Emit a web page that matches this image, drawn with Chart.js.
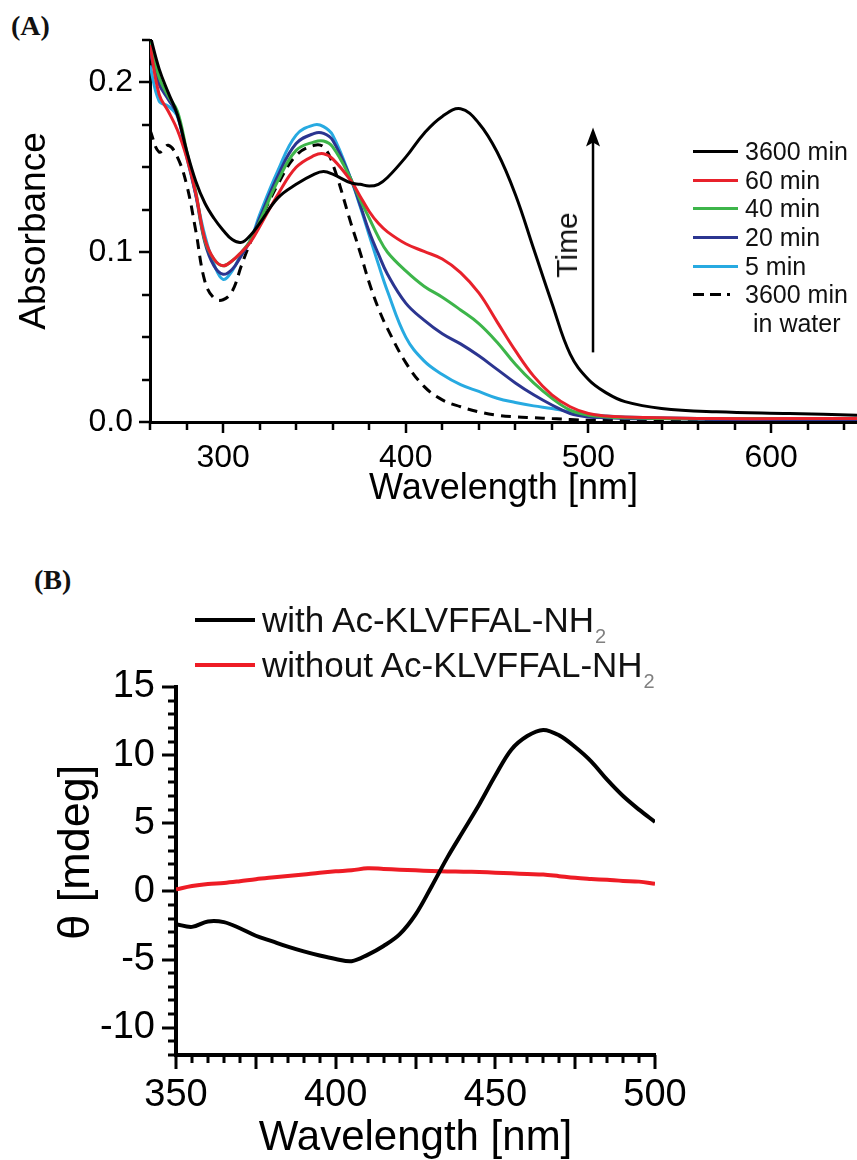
<!DOCTYPE html>
<html>
<head>
<meta charset="utf-8">
<script src="https://cdn.jsdelivr.net/npm/chart.js@4.4.1/dist/chart.umd.min.js"></script>
<style>
  html, body { margin: 0; padding: 0; background: #fff; }
  body { width: 857px; height: 1160px; position: relative; overflow: hidden; font-family: "Liberation Sans", Arial, sans-serif; color: #111; }
  canvas { position: absolute; left: 0; }
  #chartA { top: 0; }
  #chartB { top: 560px; }
  .panel { position: absolute; font-family: "Liberation Serif", "Times New Roman", serif; font-weight: bold; font-size: 28px; }
  .legend { position: absolute; }
  .legend .row { display: flex; align-items: center; white-space: nowrap; }
  .legend svg { display: block; flex: none; }
  .time { position: absolute; font-size: 30px; transform: translate(-50%, -50%) rotate(-90deg); white-space: nowrap; }
  .sub { font-size: 20px; color: #808080; position: relative; top: 11px; margin-left: 1px; }
</style>
</head>
<body>
<div class="panel" style="left:11px; top:10px;">(A)</div>
<div class="panel" style="left:34px; top:564px;">(B)</div>
<canvas id="chartA" width="857" height="520"></canvas>
<canvas id="chartB" width="857" height="600"></canvas>
<div id="legendA" class="legend" style="left:693px; top:137px; font-size:25px;"></div>
<div class="time" style="left:567px; top:245px;">Time</div>
<div id="legendB" class="legend" style="left:195px; top:597px; font-size:35px;"></div>

<script>
// Panel A: UV-vis absorbance spectra
const wlA = [260, 265, 270, 275, 280, 285, 290, 295, 300, 305, 310, 315, 320, 330, 340, 350, 355, 360, 370, 375, 380, 385, 390, 400, 410, 420, 430, 440, 450, 460, 470, 480, 490, 500, 510, 520, 540, 570, 610, 647];

const abs3600 = [0.228, 0.208, 0.194, 0.181, 0.160, 0.142, 0.129, 0.120, 0.113, 0.1075, 0.1058, 0.110, 0.117, 0.132, 0.140, 0.146, 0.1475, 0.146, 0.1408, 0.140, 0.139, 0.140, 0.144, 0.156, 0.170, 0.180, 0.1845, 0.176, 0.159, 0.134, 0.102, 0.070, 0.040, 0.025, 0.017, 0.012, 0.008, 0.006, 0.005, 0.004];
const abs60 = [0.222, 0.193, 0.183, 0.172, 0.156, 0.135, 0.108, 0.096, 0.092, 0.095, 0.100, 0.106, 0.115, 0.134, 0.150, 0.157, 0.158, 0.155, 0.142, 0.133, 0.124, 0.117, 0.112, 0.105, 0.1005, 0.096, 0.088, 0.076, 0.059, 0.042, 0.027, 0.016, 0.009, 0.005, 0.0035, 0.003, 0.0025, 0.002, 0.002, 0.002];
const abs40 = [0.226, 0.203, 0.192, 0.183, 0.160, 0.136, 0.107, 0.096, 0.092, 0.095, 0.100, 0.107, 0.118, 0.142, 0.160, 0.165, 0.1655, 0.162, 0.143, 0.131, 0.120, 0.109, 0.100, 0.089, 0.080, 0.0735, 0.066, 0.058, 0.047, 0.034, 0.023, 0.014, 0.007, 0.004, 0.003, 0.0025, 0.002, 0.002, 0.002, 0.002];
const abs20 = [0.218, 0.199, 0.190, 0.181, 0.158, 0.134, 0.106, 0.092, 0.087, 0.090, 0.098, 0.107, 0.120, 0.145, 0.164, 0.170, 0.170, 0.166, 0.143, 0.128, 0.112, 0.099, 0.087, 0.070, 0.060, 0.052, 0.046, 0.039, 0.031, 0.023, 0.016, 0.010, 0.005, 0.003, 0.0025, 0.002, 0.002, 0.0015, 0.0015, 0.0015];
const abs5 = [0.210, 0.189, 0.186, 0.180, 0.1565, 0.134, 0.110, 0.093, 0.084, 0.089, 0.099, 0.107, 0.122, 0.148, 0.169, 0.175, 0.174, 0.169, 0.143, 0.127, 0.110, 0.093, 0.077, 0.050, 0.036, 0.028, 0.022, 0.018, 0.014, 0.0115, 0.0095, 0.008, 0.006, 0.0045, 0.0035, 0.003, 0.0025, 0.002, 0.002, 0.0015];
const absWater = [0.172, 0.159, 0.163, 0.156, 0.140, 0.113, 0.083, 0.073, 0.072, 0.077, 0.092, 0.106, 0.118, 0.140, 0.157, 0.163, 0.162, 0.152, 0.117, 0.100, 0.082, 0.067, 0.055, 0.035, 0.021, 0.013, 0.009, 0.006, 0.004, 0.003, 0.0025, 0.002, 0.0015, 0.001, 0.001, 0.001, 0.001, 0.001, 0.001, 0.001];

const namesA = ['3600 min', '60 min', '40 min', '20 min', '5 min', '3600 min|in water'];
const colorsA = ['#000000', '#e8212b', '#3db54a', '#2b3590', '#27aae1', '#000000'];
const dashesA = [[], [], [], [], [], [10, 7]];
const valuesA = [abs3600, abs60, abs40, abs20, abs5, absWater];

// Panel B: CD spectra
const wlB = [350, 355, 360, 365, 370, 375, 380, 385, 390, 395, 400, 405, 410, 415, 420, 425, 430, 435, 440, 445, 450, 455, 460, 465, 470, 475, 480, 485, 490, 495, 500];
const cdWith = [-2.4, -2.6, -2.2, -2.25, -2.7, -3.25, -3.65, -4.05, -4.4, -4.7, -4.95, -5.12, -4.65, -4.0, -3.15, -1.7, 0.35, 2.5, 4.45, 6.4, 8.5, 10.4, 11.4, 11.85, 11.45, 10.6, 9.55, 8.2, 7.0, 6.0, 5.1];
const cdWithout = [0.15, 0.4, 0.55, 0.62, 0.75, 0.9, 1.02, 1.13, 1.25, 1.38, 1.48, 1.55, 1.7, 1.65, 1.6, 1.55, 1.5, 1.47, 1.45, 1.42, 1.38, 1.33, 1.28, 1.24, 1.12, 1.0, 0.92, 0.85, 0.77, 0.72, 0.56];

const namesB = ['with Ac-KLVFFAL-NH', 'without Ac-KLVFFAL-NH'];
const colorsB = ['#000000', '#ee1c25'];
const valuesB = [cdWith, cdWithout];

const FONT = '"Liberation Sans", Arial, sans-serif';

const isMultiple = (v, m) => Math.abs(v / m - Math.round(v / m)) < 1e-6;

// outward tick marks, long on major values, short in between
const tickMarks = {
  id: 'tickMarks',
  afterDraw(chart, args, o) {
    const { ctx, chartArea } = chart;
    const xs = chart.scales.x, ys = chart.scales.y;
    ctx.save();
    ctx.strokeStyle = '#000';
    ctx.lineWidth = o.width;
    ctx.beginPath();
    for (let i = 0; ; i++) {
      const v = xs.min + i * o.xStep;
      if (v > xs.max + 1e-9) break;
      const px = Math.round(xs.getPixelForValue(v));
      const len = isMultiple(v, o.xMajor) ? o.majorLen : o.minorLen;
      ctx.moveTo(px, chartArea.bottom);
      ctx.lineTo(px, chartArea.bottom + len);
    }
    for (let i = 0; ; i++) {
      const v = ys.min + i * o.yStep;
      if (v > ys.max + 1e-9) break;
      const py = Math.round(ys.getPixelForValue(v));
      const len = isMultiple(v, o.yMajor) ? o.majorLen : o.minorLen;
      ctx.moveTo(chartArea.left, py);
      ctx.lineTo(chartArea.left - len, py);
    }
    ctx.stroke();
    ctx.restore();
  }
};

// the "Time" arrow in panel A, placed in data units
const timeArrow = {
  id: 'timeArrow',
  afterDraw(chart, args, o) {
    if (!o || !o.x) return;
    const { ctx } = chart;
    const px = chart.scales.x.getPixelForValue(o.x);
    const y0 = chart.scales.y.getPixelForValue(o.from);
    const y1 = chart.scales.y.getPixelForValue(o.to);
    ctx.save();
    ctx.strokeStyle = '#000';
    ctx.fillStyle = '#000';
    ctx.lineWidth = 2.5;
    ctx.beginPath();
    ctx.moveTo(px, y0);
    ctx.lineTo(px, y1 + 14);
    ctx.stroke();
    ctx.beginPath();
    ctx.moveTo(px, y1);
    ctx.lineTo(px - 7, y1 + 19);
    ctx.lineTo(px, y1 + 15);
    ctx.lineTo(px + 7, y1 + 19);
    ctx.closePath();
    ctx.fill();
    ctx.restore();
  }
};

function sampleSvg(w, color, lw, dash) {
  const h = lw + 4;
  const da = dash && dash.length ? ` stroke-dasharray="${dash.join(' ')}"` : '';
  return `<svg width="${w}" height="${h}"><line x1="0" y1="${h / 2}" x2="${w}" y2="${h / 2}" stroke="${color}" stroke-width="${lw}"${da}/></svg>`;
}

// legend A
document.getElementById('legendA').innerHTML = namesA.map((n, i) => {
  const parts = n.split('|');
  let html = `<div class="row" style="height:28.7px">${sampleSvg(45, colorsA[i], 3, i === 5 ? [11, 6, 11, 6, 3, 20] : dashesA[i])}<span style="margin-left:7px">${parts[0]}</span></div>`;
  if (parts[1]) html += `<div class="row" style="height:28.7px; padding-left:60px">${parts[1]}</div>`;
  return html;
}).join('');

// legend B
document.getElementById('legendB').innerHTML = namesB.map((n, i) =>
  `<div class="row" style="height:45px">${sampleSvg(60, colorsB[i], 4, [])}<span style="margin-left:7px">${n}<span class="sub">2</span></span></div>`
).join('');

const axisFont = (size) => ({ family: FONT, size: size });

new Chart(document.getElementById('chartA'), {
  type: 'line',
  data: {
    datasets: valuesA.map((vals, i) => ({
      label: namesA[i].replace('|', ' '),
      data: wlA.map((x, j) => ({ x: x, y: vals[j] })),
      borderColor: colorsA[i],
      borderWidth: 3,
      borderDash: dashesA[i],
      pointRadius: 0,
      tension: 0.4,
      fill: false
    }))
  },
  options: {
    responsive: false,
    animation: false,
    devicePixelRatio: 1,
    layout: { padding: { top: 40, left: 0, right: 0, bottom: 0 } },
    plugins: {
      legend: { display: false },
      tooltip: { enabled: false },
      tickMarks: { xStep: 20, xMajor: 100, yStep: 0.025, yMajor: 0.1, majorLen: 11, minorLen: 8, width: 2.5 },
      timeArrow: { x: 502.5, from: 0.041, to: 0.1735 }
    },
    scales: {
      x: {
        type: 'linear', min: 260, max: 647,
        afterFit: (s) => { s.height = 98; },
        ticks: { stepSize: 100, includeBounds: false, maxRotation: 0, color: '#000', padding: 7, font: axisFont(32) },
        grid: { display: true, drawOnChartArea: false, drawTicks: true, tickLength: 10, color: 'rgba(0,0,0,0)' },
        border: { display: true, color: '#000', width: 3 },
        title: { display: true, text: 'Wavelength [nm]', color: '#000', font: axisFont(36), padding: { top: 0, bottom: 9 } }
      },
      y: {
        type: 'linear', min: 0, max: 0.225,
        afterFit: (s) => { s.width = 150; },
        ticks: { stepSize: 0.1, includeBounds: false, color: '#000', padding: 7, font: axisFont(32), callback: (v) => v.toFixed(1) },
        grid: { display: true, drawOnChartArea: false, drawTicks: true, tickLength: 10, color: 'rgba(0,0,0,0)' },
        border: { display: true, color: '#000', width: 3 },
        title: { display: true, text: 'Absorbance', color: '#000', font: axisFont(37), padding: { top: 13, bottom: 0 } }
      }
    }
  },
  plugins: [tickMarks, timeArrow]
});

new Chart(document.getElementById('chartB'), {
  type: 'line',
  data: {
    datasets: valuesB.map((vals, i) => ({
      label: namesB[i] + '2',
      data: wlB.map((x, j) => ({ x: x, y: vals[j] })),
      borderColor: colorsB[i],
      borderWidth: 4,
      pointRadius: 0,
      tension: 0.35,
      fill: false
    }))
  },
  options: {
    responsive: false,
    animation: false,
    devicePixelRatio: 1,
    layout: { padding: { top: 127, left: 0, right: 202, bottom: 0 } },
    plugins: {
      legend: { display: false },
      tooltip: { enabled: false },
      tickMarks: { xStep: 5, xMajor: 25, yStep: 1, yMajor: 5, majorLen: 14, minorLen: 8, width: 3 }
    },
    scales: {
      x: {
        type: 'linear', min: 350, max: 500,
        afterFit: (s) => { s.height = 105; },
        ticks: { stepSize: 50, color: '#000', padding: 8, maxRotation: 0, font: axisFont(38) },
        grid: { display: true, drawOnChartArea: false, drawTicks: true, tickLength: 10, color: 'rgba(0,0,0,0)' },
        border: { display: true, color: '#000', width: 4 },
        title: { display: true, text: 'Wavelength [nm]', color: '#000', font: { family: FONT, size: 42, lineHeight: 1 }, padding: { top: 0, bottom: 1 } }
      },
      y: {
        type: 'linear', min: -12, max: 15,
        afterFit: (s) => { s.width = 176; },
        ticks: { stepSize: 5, includeBounds: false, color: '#000', padding: 9, font: axisFont(38) },
        grid: { display: true, drawOnChartArea: false, drawTicks: true, tickLength: 12, color: 'rgba(0,0,0,0)' },
        border: { display: true, color: '#000', width: 4 },
        title: { display: true, text: '   θ [mdeg]', color: '#000', font: axisFont(45), padding: { top: 50, bottom: 0 } }
      }
    }
  },
  plugins: [tickMarks]
});
</script>
</body>
</html>
